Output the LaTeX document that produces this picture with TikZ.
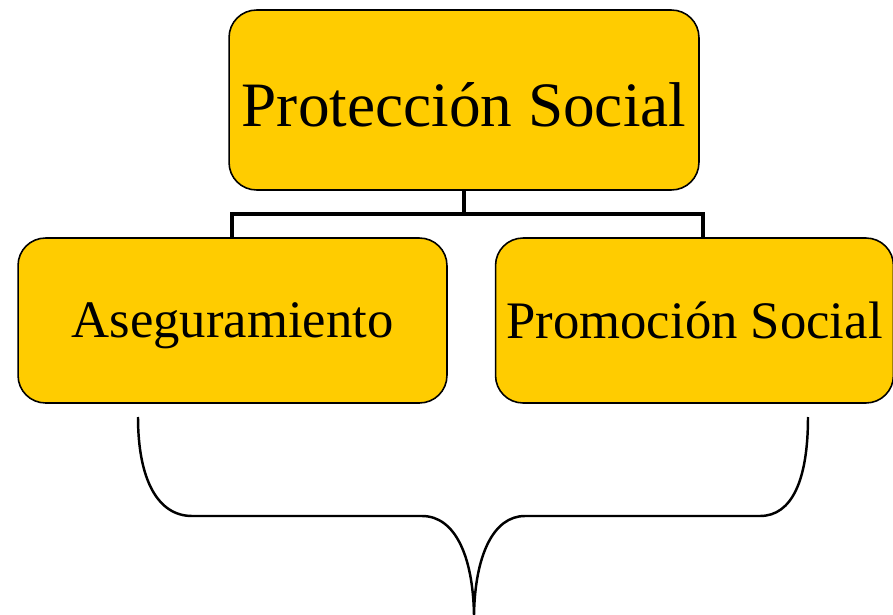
\documentclass[tikz,border=0pt]{standalone}
\usepackage{fontspec}
\setmainfont{Liberation Serif}
\definecolor{boxyellow}{RGB}{255,204,0}
\begin{document}
\begin{tikzpicture}[x=0.02cm,y=-0.02cm,
		caja/.style={draw=black,line width=0.9pt,fill=boxyellow,rounded corners=0.55cm,inner sep=0pt},
		bus/.style={line width=2.8pt},
		llave/.style={line width=1.4pt}]
	\useasboundingbox (0,0) rectangle (893,615);
	\node[caja,minimum width=9.4cm,minimum height=3.6cm,text height=30pt,font=\fontsize{36}{40}\selectfont] (ps) at (464,100) {Protección Social};
	\node[caja,minimum width=8.58cm,minimum height=3.3cm,text depth=0pt,font=\fontsize{30}{34}\selectfont] (aseg) at (232.5,320.5) {Aseguramiento};
	\node[caja,minimum width=7.96cm,minimum height=3.3cm,text depth=0pt,font=\fontsize{30}{34}\selectfont] (prom) at (694.5,320.5) {Promoción Social};
	\coordinate (busL) at (232,214);
	\coordinate (busR) at (703,214);
	\draw[bus] (ps.south) -- (ps.south |- busL);
	\draw[bus] (aseg.north -| busL) |- (busR) -- (prom.north -| busR);
	% llave bajo las dos cajas
	\coordinate (llaveL) at (138,417);
	\coordinate (llaveR) at (808,417);
	\coordinate (punta) at (474,615);
	\draw[llave] (llaveL) .. controls (138,480) and (158,516) .. (192,516) -- (422,516)
		.. controls (455,516) and (473,556) .. (punta)
		.. controls (475,556) and (493,516) .. (525,516) -- (760,516)
		.. controls (792,516) and (808,480) .. (llaveR);
\end{tikzpicture}
\end{document}
